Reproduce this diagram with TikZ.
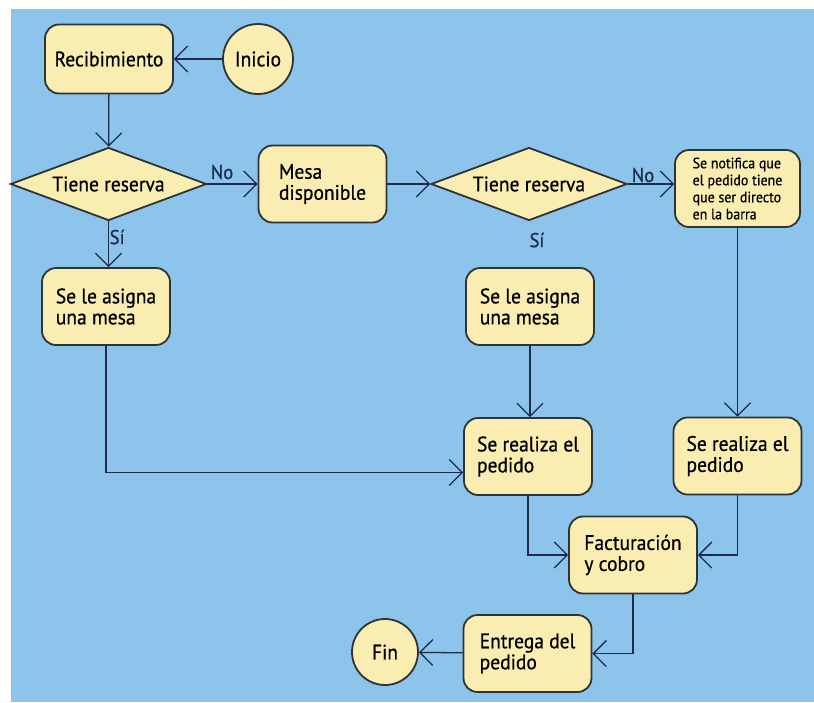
\documentclass[tikz,border=0pt]{standalone}
\usepackage{fontspec}
\setmainfont{PT Sans}[FakeStretch=0.93, FakeBold=0.6]
\usetikzlibrary{arrows.meta,calc,positioning,shapes.geometric}

\definecolor{sky}{HTML}{8DC4EC}
\definecolor{cream}{HTML}{FAEDB2}
\definecolor{ink}{HTML}{1C2B4A}
\definecolor{rim}{HTML}{2F3333}

\begin{document}
\begin{tikzpicture}[x=10pt, y=10pt,
    >={Straight Barb[length=13pt, width=26pt]},
    box/.style={draw=rim, line width=1.8pt, rounded corners=14pt, fill=cream, align=left, minimum width=128pt, minimum height=77pt, inner sep=0pt, font=\fontsize{21}{21}\selectfont},
    test/.style={draw=rim, line width=1.8pt, diamond, aspect=2.7, fill=cream, minimum width=196pt, minimum height=73pt, inner sep=0pt, font=\fontsize{21}{21}\selectfont},
    term/.style={draw=rim, line width=1.8pt, circle, fill=cream, inner sep=0pt, font=\fontsize{21}{21}\selectfont},
    arrow/.style={->, draw=ink, line width=1.3pt},
    tag/.style={text=ink, inner sep=0pt, font=\fontsize{20}{20}\selectfont}
  ]
    \useasboundingbox (0,0) rectangle (81.4,-70.2);
    \fill[sky] (1.1,-0.9) rectangle (81.4,-70.2);

    \node[box, minimum height=69pt] (recibir) at (10.9,-5.9) {Recibimiento};
    \node[term, minimum size=70pt] (inicio) at (25.8,-5.9) {Inicio};
    \node[test] (reserva1) at (10.85,-18.4) {Tiene reserva};
    \node[box] (mesa) at (32.25,-18.4) {Mesa\\ disponible};
    \node[test] (reserva2) at (52.9,-18.4) {Tiene reserva};
    \node[box, minimum width=125pt, font=\fontsize{15}{17}\selectfont] (aviso) at (73.75,-18.85) {Se notifica que\\ el pedido tiene\\ que ser directo\\ en la barra};
    \node[box] (asigna1) at (10.6,-30.65) {Se le asigna\\ una mesa};
    \node[box] (asigna2) at (53.0,-30.65) {Se le asigna\\ una mesa};
    \node[box] (pedido1) at (52.8,-45.65) {Se realiza el\\ pedido};
    \node[box] (pedido2) at (73.75,-45.6) {Se realiza el\\ pedido};
    \node[box] (cobro) at (63.3,-55.5) {Facturación\\ y cobro};
    \node[box] (entrega) at (52.75,-65.35) {Entrega del\\ pedido};
    \node[term, minimum size=66pt] (fin) at (38.5,-65.2) {Fin};

    \node[tag] (no1) at (22.2,-17.2) {No};
    \node[tag] (no2) at (64.3,-17.5) {No};
    \node[tag, anchor=west] (si1) at (10.95,-23.7) {Sí};
    \node[tag] (si2) at (53.7,-24.0) {Sí};

    \draw[arrow] (inicio) -- (recibir);
    \draw[arrow] (recibir) -- (reserva1);
    \draw[arrow] (reserva1.east) -- (reserva1.east -| mesa.west);
    \draw[arrow] (mesa) -- (reserva2);
    \draw[arrow] (reserva2.east) -- (reserva2.east -| aviso.west);
    \draw[arrow] (reserva1.south) -- (reserva1.south |- asigna1.north);
    \draw[arrow] (asigna1.south) |- ($(pedido1.west)+(0,-1.6)$);
    \draw[arrow] (asigna2.south) -- (asigna2.south |- pedido1.north);
    \draw[arrow] (aviso.south) -- (aviso.south |- pedido2.north);
    \draw[arrow] (pedido1.south) |- (cobro.west);
    \draw[arrow] (pedido2.south) |- (cobro.east);
    \draw[arrow] (cobro.south) |- (entrega.east);
    \draw[arrow] (entrega) -- (fin);
  \end{tikzpicture}
\end{document}
